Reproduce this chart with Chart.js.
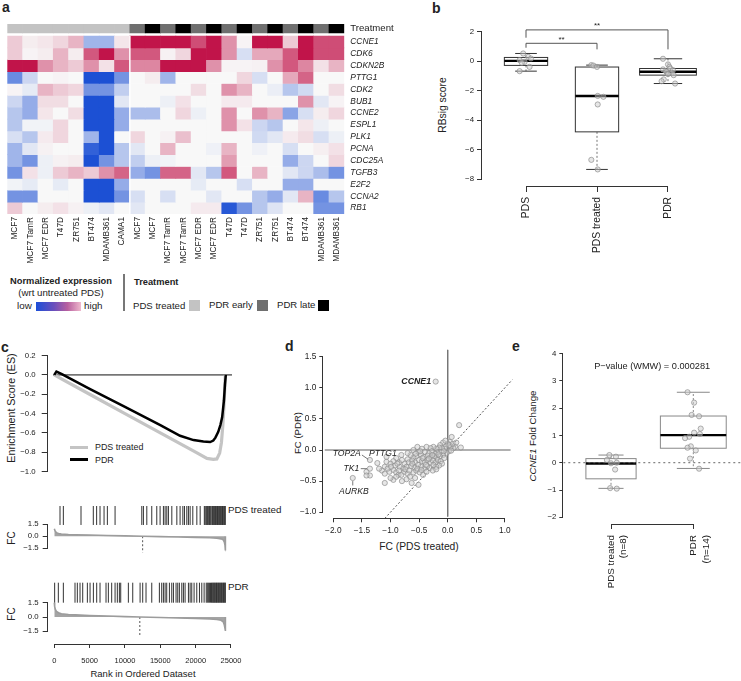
<!DOCTYPE html>
<html>
<head>
<meta charset="utf-8">
<script src="https://cdn.jsdelivr.net/npm/chart.js@4.4.1/dist/chart.umd.min.js"></script>
<style>
body { margin: 0; background: #fff; overflow: hidden; }
#fig { position: relative; width: 741px; height: 681px; overflow: hidden; font-family: "Liberation Sans", Arial, sans-serif; color: #222; }
#fig canvas { position: absolute; }
.t { position: absolute; white-space: nowrap; line-height: 1; font-size: 9.6px; }
.vc { transform: translateY(-50%); }
.cc { transform: translate(-50%, -50%); }
.rot { transform: translate(-50%, -50%) rotate(-90deg); }
.pl { font-weight: bold; font-size: 14px; line-height: 14px; }
.sw { position: absolute; width: 11px; height: 11px; }
</style>
</head>
<body>
<div id="fig">
  <!-- panel letters -->
  <div class="t pl" style="left:2px;top:0px">a</div>
  <div class="t pl" style="left:432px;top:1px">b</div>
  <div class="t pl" style="left:1px;top:340px">c</div>
  <div class="t pl" style="left:285px;top:339px">d</div>
  <div class="t pl" style="left:512px;top:339px">e</div>

  <!-- heatmap legend -->
  <div class="t cc" style="left:61px;top:282px;font-weight:bold;font-size:9.3px">Normalized expression</div>
  <div class="t cc" style="left:61px;top:293px;font-size:9.7px">(wrt untreated PDS)</div>
  <div class="t vc" style="left:17px;top:306px;font-size:9.8px">low</div>
  <div style="position:absolute;left:36px;top:302px;width:45px;height:9px;background:linear-gradient(90deg,#1c4fd8,#6a4fbc 40%,#b8609f 70%,#efb9cd)"></div>
  <div class="t vc" style="left:84px;top:306px;font-size:9.8px">high</div>
  <div style="position:absolute;left:123px;top:274px;width:1.5px;height:37px;background:#777"></div>
  <div class="t vc" style="left:134px;top:283px;font-weight:bold;font-size:9.3px">Treatment</div>
  <div class="t vc" style="left:133px;top:306px">PDS treated</div>
  <div class="sw" style="left:189px;top:300px;background:#c3c3c3"></div>
  <div class="t vc" style="left:209px;top:305px">PDR early</div>
  <div class="sw" style="left:257px;top:300px;background:#6f6f6f"></div>
  <div class="t vc" style="left:277px;top:305px">PDR late</div>
  <div class="sw" style="left:318px;top:300px;background:#000"></div>

  <!-- axis titles -->
  <div class="t rot" style="left:443px;top:105px;font-size:10.3px">RBsig score</div>
  <div class="t rot" style="left:11px;top:408px;font-size:10.7px">Enrichment Score (ES)</div>
  <div class="t rot" style="left:12px;top:538px;font-size:10px">FC</div>
  <div class="t rot" style="left:12px;top:614px;font-size:10px">FC</div>
  <div class="t cc" style="left:143px;top:674px;font-size:9.5px">Rank in Ordered Dataset</div>
  <div class="t rot" style="left:298px;top:433px;font-size:9.6px">FC (PDR)</div>
  <div class="t cc" style="left:419px;top:547px;font-size:10.3px">FC (PDS treated)</div>
  <div class="t rot" style="left:533px;top:436px;font-size:9.7px"><i>CCNE1</i> Fold Change</div>

  <!-- panel c legend and barcode names -->
  <div style="position:absolute;left:70px;top:445.5px;width:18px;height:3px;background:#c4c4c4"></div>
  <div class="t vc" style="left:95px;top:447px;font-size:8.9px">PDS treated</div>
  <div style="position:absolute;left:70px;top:458px;width:18px;height:2.5px;background:#000"></div>
  <div class="t vc" style="left:95px;top:459.5px;font-size:8.9px">PDR</div>
  <div class="t vc" style="left:228px;top:510px;font-size:9.8px">PDS treated</div>
  <div class="t vc" style="left:228px;top:587px;font-size:9.8px">PDR</div>
</div>

<script>
// ---------- a: heatmap ----------
const cellLines = ['MCF7', 'MCF7 TamR', 'MCF7 EDR', 'T47D', 'ZR751', 'BT474', 'MDAMB361', 'CAMA1',
  'MCF7', 'MCF7', 'MCF7 TamR', 'MCF7 TamR', 'MCF7 EDR', 'MCF7 EDR', 'T47D', 'T47D',
  'ZR751', 'ZR751', 'BT474', 'BT474', 'MDAMB361', 'MDAMB361'];
const treatment = ['PDS treated', 'PDS treated', 'PDS treated', 'PDS treated', 'PDS treated', 'PDS treated', 'PDS treated', 'PDS treated',
  'PDR early', 'PDR late', 'PDR early', 'PDR late', 'PDR early', 'PDR late', 'PDR early', 'PDR late',
  'PDR early', 'PDR late', 'PDR early', 'PDR late', 'PDR early', 'PDR late'];
const genes = ['CCNE1', 'CDK6', 'CDKN2B', 'PTTG1', 'CDK2', 'BUB1', 'CCNE2', 'ESPL1', 'PLK1', 'PCNA', 'CDC25A', 'TGFB3', 'E2F2', 'CCNA2', 'RB1'];
// scaled expression (-1 low .. 1 high), one row per gene, one column per sample
const expr = [
  [0.2, 0.05, 0.08, 0.15, 0.3, -0.4, -0.4, 0.08, 1, 1, 1, 1, 0.75, 1, 0.45, 0.02, 1, 1, 0.2, 1, 0.75, 0.75],
  [0.2, 0.02, 0.05, 0.3, 0.05, 0.7, 1, 0.45, 0.7, 0.7, 0.03, 0.15, 1, 1, 0.45, -0.15, 0.35, 0.35, 0.7, 1, 0.75, 0.75],
  [1, 1, 0.45, 0.3, 0.2, 0.45, 0.1, 0.7, 0.5, 0.5, 1, 1, 1, 0.45, 0.02, 0.02, 0.03, 0.45, 0.7, 0.5, 0.1, 0.3],
  [-0.65, -0.2, 0, 0.02, 0, -1, -1, -0.6, 0, 0.05, -0.4, 0, 0, 0, 0, 0.15, -0.15, 0, 0.35, 0.65, 0, 0],
  [0.02, -0.08, 0.3, 0.2, 0.15, -0.6, -0.6, -0.25, 0, 0, 0, 0, 0.12, 0, 0.45, 0.3, 0, -0.06, -0.3, -0.18, 0, 0.12],
  [-0.2, -0.45, 0.12, 0.12, 0, -1, -1, -0.1, 0, 0, -0.05, 0.1, 0, 0, 0.06, 0.06, 0, 0, 0, 0.45, -0.1, 0.02],
  [-0.3, -0.45, 0.08, 0, 0.12, -1, -1, -0.45, -0.35, -0.35, 0, 0.15, -0.05, 0, 0.45, 0, 0.45, 0.3, -0.5, -0.15, 0.05, 0.15],
  [-0.3, -0.03, -0.03, 0.15, 0, -1, -1, -0.45, 0, 0, 0, 0, 0, 0, 0.45, 0.1, -0.2, -0.3, 0, 0.08, -0.05, 0],
  [-0.15, -0.3, 0.06, 0.15, 0, -0.4, -1, 0, 0.15, 0, 0.03, 0.25, 0, 0, 0, 0, -0.18, -0.1, 0.06, 0.12, -0.15, -0.05],
  [-0.4, -0.1, 0.03, 0, 0, -0.9, -1, -0.3, -0.1, 0, 0.3, 0, 0, -0.04, 0.3, 0, -0.04, 0, -0.15, 0, 0.04, 0.1],
  [-0.4, -0.6, -0.05, 0.03, 0.05, -1, -0.6, -0.3, -0.25, -0.05, -0.03, 0, 0, 0, 0.4, 0, 0, 0, -0.45, -0.2, 0, 0.15],
  [-0.6, 0.1, -0.05, 0.2, 0.3, 0.2, 0.45, 0.65, -0.45, -0.6, 0.65, 0.65, -0.1, -0.3, 0.7, 0, 0.3, 0, -0.1, -0.2, -0.35, -0.6],
  [-0.03, -0.08, 0, -0.08, 0, -1, -1, -0.45, 0, 0, 0, 0, -0.08, 0, 0, -0.15, 0, 0, -0.45, -0.45, 0, 0],
  [-0.6, -0.6, 0, 0, 0, -1, -1, -0.6, -0.15, 0, -0.15, 0, 0, -0.1, 0, 0, -0.3, -0.45, -0.1, 0.3, -0.65, -0.3],
  [0.2, 0, 0.05, 0.1, 0.03, -0.05, -0.1, 0, -0.1, 0, 0, 0, 0.06, 0.06, -0.95, -0.6, -0.3, -0.12, 0, 0, -0.6, -0.6]
];
const treatColors = { 'PDS treated': '#c3c3c3', 'PDR early': '#6f6f6f', 'PDR late': '#000000' };

// ---------- b: RBsig score boxplots ----------
const bGroups = ['PDS', 'PDS treated', 'PDR'];
const bLow = [-0.68, -7.35, -1.52];
const bQ1 = [-0.29, -4.8, -0.95];
const bMed = [0.02, -2.37, -0.72];
const bQ3 = [0.25, -0.4, -0.5];
const bHigh = [0.52, -0.27, 0.16];
const bWidth = [0.61, 0.61, 0.8];
const bPdsScore = [0.52, 0.29, 0.18, 0.07, -0.05, -0.11, -0.39, -0.68];
const bPdsJit = [-0.04, 0.03, 0.07, -0.09, -0.02, -0.06, 0.05, -0.09];
const bTreatScore = [-0.27, -0.3, -0.39, -2.36, -2.42, -2.94, -6.7, -7.35];
const bTreatJit = [-0.08, -0.05, 0.0, 0.01, 0.09, 0.01, -0.08, 0.01];
const bPdrScore = [0.16, -0.22, -0.39, -0.5, -0.56, -0.61, -0.68, -0.74, -0.79, -0.88, -0.95, -1.24, -1.36, -1.52];
const bPdrJit = [-0.07, 0.0, 0.02, 0.03, -0.07, 0.07, -0.03, -0.02, 0.05, 0.0, 0.08, -0.06, -0.09, 0.1];

// ---------- c: GSEA ----------
const esPdsRank = [0, 1000, 5000, 10000, 15000, 20000, 21600, 22500, 23000, 23400, 23650, 23850, 24000, 24100, 24200];
const esPdsVal = [0.0, -0.04, -0.2, -0.4, -0.6, -0.8, -0.865, -0.875, -0.87, -0.81, -0.7, -0.52, -0.33, -0.17, 0.0];
const esPdrRank = [0, 300, 1000, 5000, 10000, 15000, 17800, 19700, 21100, 22050, 22500, 22800, 23200, 23500, 23750, 24000, 24150, 24270];
const esPdrVal = [0.0, 0.035, 0.01, -0.145, -0.33, -0.52, -0.63, -0.675, -0.69, -0.695, -0.68, -0.65, -0.59, -0.52, -0.44, -0.27, -0.1, 0.0];
const hitsPds = [807, 1280, 3780, 5520, 5990, 6470, 7040, 7510, 8600, 12380, 12610, 13090, 13790, 14500, 14970, 15440, 15680,
  15920, 16150, 16630, 17340, 17800, 18190, 18420, 18750, 18980, 19220, 19600, 20170, 20640, 21230, 21350, 21500, 21600,
  21700, 21850, 21950, 22050, 22150, 22300, 22400, 22500, 22600, 22700, 22800, 22900, 23000, 23100, 23200, 23300, 23400,
  23500, 23600, 23700, 23800, 23900, 24000, 24100, 24200];
const hitsPdr = [50, 570, 1280, 2930, 3260, 3640, 4020, 4680, 5060, 5530, 6000, 6470, 7320, 7650, 8120, 8600, 8920, 9210,
  9400, 10480, 11100, 12140, 12510, 12980, 13790, 14870, 15200, 15440, 15680, 15910, 16290, 16620, 16860, 17230, 17470,
  17700, 18040, 18270, 18510, 18980, 19220, 19450, 19780, 20160, 20540, 20870, 21200, 21500, 21650, 21800, 21950, 22100,
  22250, 22350, 22450, 22550, 22650, 22750, 22850, 22950, 23050, 23150, 23250, 23350, 23450, 23550, 23650, 23750, 23850,
  23950, 24050, 24150, 24200];
const fcPdsRank = [0, 100, 300, 600, 1000, 2000, 3000, 5000, 7500, 10000, 12500, 15000, 17500, 20000, 22000, 23000, 23600, 23900, 24050, 24150, 24200, 24210];
const fcPdsVal = [0.95, 0.7, 0.45, 0.35, 0.28, 0.22, 0.19, 0.15, 0.1, 0.05, 0.0, -0.05, -0.09, -0.14, -0.2, -0.26, -0.33, -0.45, -0.7, -1.1, -1.7, 0];
const fcPdrRank = [0, 50, 150, 300, 600, 1000, 2000, 3000, 5000, 7500, 10000, 12100, 15000, 17500, 20000, 22000, 23000, 23600, 23900, 24050, 24150, 24200, 24210];
const fcPdrVal = [1.5, 1.1, 0.8, 0.6, 0.45, 0.35, 0.26, 0.22, 0.16, 0.1, 0.04, 0.0, -0.05, -0.1, -0.15, -0.21, -0.27, -0.35, -0.5, -0.8, -1.2, -1.4, 0];
const midPds = 12500, midPdr = 12100;

// ---------- d: FC scatter ----------
const dPoints = [
  [0.2, 0.4], [0.07, 0.21], [0.04, 0.13], [0.13, 0.05], [0.23, 0.04], [0.1, 0.03], [0.05, 0.05], [0.0, 0.1], [-0.03, 0.06],
  [-0.08, 0.12], [-0.13, 0.08], [-0.05, 0.02], [0.02, -0.02], [-0.02, -0.05], [0.06, -0.01], [-0.1, 0.03], [-0.15, 0.04],
  [-0.2, 0.02], [-0.25, 0.05], [-0.3, 0.03], [-0.37, 0.05], [-0.53, 0.05], [-0.45, 0.02], [-0.12, -0.03], [-0.18, -0.04],
  [-0.22, -0.06], [-0.28, -0.02], [-0.33, -0.05], [-0.4, -0.03], [-0.51, -0.03], [-0.08, -0.08], [-0.14, -0.1], [-0.19, -0.12],
  [-0.24, -0.1], [-0.3, -0.12], [-0.35, -0.09], [-0.42, -0.11], [-0.47, -0.07], [-0.55, -0.1], [-0.6, -0.12], [-0.65, -0.08],
  [-0.7, -0.15], [-0.81, -0.08], [-0.9, -0.13], [-1.07, -0.11], [-1.07, -0.19], [-0.95, -0.18], [-0.85, -0.2], [-0.75, -0.22],
  [-0.68, -0.2], [-0.62, -0.17], [-0.57, -0.2], [-0.5, -0.16], [-0.45, -0.18], [-0.4, -0.2], [-0.35, -0.16], [-0.3, -0.2],
  [-0.26, -0.17], [-0.21, -0.2], [-0.17, -0.16], [-0.12, -0.18], [-0.06, -0.13], [-0.1, -0.22], [-0.15, -0.25], [-0.2, -0.27],
  [-0.25, -0.24], [-0.31, -0.29], [-0.36, -0.26], [-0.41, -0.3], [-0.47, -0.27], [-0.52, -0.24], [-0.58, -0.28], [-0.64, -0.26],
  [-0.72, -0.27], [-0.78, -0.3], [-0.84, -0.27], [-0.92, -0.25], [-1.0, -0.22], [-1.1, -0.27], [-1.15, -0.33], [-1.1, -0.38],
  [-1.02, -0.35], [-0.95, -0.32], [-0.9, -0.36], [-0.86, -0.4], [-0.81, -0.4], [-0.76, -0.35], [-0.7, -0.38], [-0.66, -0.43],
  [-0.6, -0.36], [-0.55, -0.33], [-0.49, -0.36], [-0.43, -0.4], [-0.37, -0.35], [-0.26, -0.33], [-0.2, -0.31], [-0.95, -0.48],
  [-0.9, -0.43], [-1.1, -0.53], [-0.63, -0.53], [-0.51, -0.56], [-0.72, -0.47], [-0.57, -0.45], [-1.0, -0.45], [-1.2, -0.3],
  [-1.42, -0.35], [-1.36, -0.41], [-1.42, -0.41], [-0.8, -0.5], [-0.38, -0.24], [-0.44, -0.13], [-0.33, -0.14],
  [-0.27, -0.08], [-0.16, -0.07], [-0.07, -0.02], [0.03, 0.08], [0.09, 0.1], [-0.04, 0.15], [0.15, 0.12], [-0.6, 0.0],
  [-0.48, -0.02], [-0.7, -0.05], [-0.56, -0.06], [-1.05, -0.3], [-0.99, -0.27], [-0.85, -0.33], [-0.74, -0.31], [-0.67, -0.33],
  [-0.53, -0.3], [-0.46, -0.32], [-0.62, -0.22], [-0.8, -0.16], [-0.88, -0.22]
];
const dGenes = ['CCNE1', 'TOP2A', 'PTTG1', 'TK1', 'AURKB'];
const dGeneX = [-0.21, -1.36, -1.23, -1.36, -1.66];
const dGeneY = [1.10, -0.16, -0.21, -0.3, -0.45];

// ---------- e: CCNE1 fold change ----------
const eLabels = [['PDS treated', '(n=8)'], ['PDR', '(n=14)']];
const eLow = [-0.94, -0.21];
const eQ1 = [-0.59, 0.53];
const eMed = [-0.03, 1.01];
const eQ3 = [0.15, 1.71];
const eHigh = [0.28, 2.58];
const eWidth = [0.61, 0.8];
const eTreatFC = [0.28, 0.22, 0.1, 0.0, -0.02, -0.25, -0.93, -0.95];
const eTreatJit = [-0.02, 0.06, -0.05, 0.07, 0.0, 0.05, -0.01, 0.07];
const ePdrFC = [2.58, 2.2, 1.75, 1.7, 1.25, 1.1, 1.05, 0.95, 0.9, 0.6, 0.55, 0.45, 0.15, -0.22];
const ePdrJit = [-0.07, 0.01, -0.02, 0.07, 0.09, 0.01, 0.08, -0.05, -0.1, -0.03, -0.07, 0.03, -0.04, 0.07];

// ================= drawing =================
const FONT = '"Liberation Sans", Arial, sans-serif';
Chart.defaults.font.family = FONT;
Chart.defaults.font.size = 7.8;
Chart.defaults.color = '#222';
Chart.defaults.animation = false;
Chart.defaults.responsive = false;
Chart.defaults.events = [];
Chart.defaults.plugins.legend.display = false;
Chart.defaults.plugins.tooltip.enabled = false;

// R-like extras: short axis lines, boxplots, brackets, labels
const extras = {
  id: 'extras',
  beforeDatasetsDraw(chart, args, o) {
    const { ctx, scales: { x, y } } = chart;
    (o.boxes || []).forEach(b => {
      const xc = x.getPixelForValue(b.pos);
      const hw = Math.abs(x.getPixelForValue(b.pos + b.width / 2) - xc);
      const cw = hw * 0.5;
      const py = v => y.getPixelForValue(v);
      ctx.save();
      ctx.lineWidth = 1;
      ctx.strokeStyle = b.whisker;
      ctx.setLineDash([2, 2]);
      ctx.beginPath();
      ctx.moveTo(xc, py(b.q3)); ctx.lineTo(xc, py(b.hi));
      ctx.moveTo(xc, py(b.q1)); ctx.lineTo(xc, py(b.lo));
      ctx.stroke();
      ctx.setLineDash([]);
      ctx.strokeStyle = b.edge;
      ctx.beginPath();
      ctx.moveTo(xc - cw, py(b.hi)); ctx.lineTo(xc + cw, py(b.hi));
      ctx.moveTo(xc - cw, py(b.lo)); ctx.lineTo(xc + cw, py(b.lo));
      ctx.stroke();
      ctx.fillStyle = '#fff';
      ctx.fillRect(xc - hw, py(b.q3), 2 * hw, py(b.q1) - py(b.q3));
      ctx.strokeRect(xc - hw, py(b.q3), 2 * hw, py(b.q1) - py(b.q3));
      ctx.lineWidth = 2.4;
      ctx.strokeStyle = '#000';
      ctx.beginPath();
      ctx.moveTo(xc - hw, py(b.med)); ctx.lineTo(xc + hw, py(b.med));
      ctx.stroke();
      ctx.restore();
    });
  },
  afterDatasetsDraw(chart, args, o) {
    const { ctx, chartArea: ca, scales: { x, y } } = chart;
    ctx.save();
    ctx.strokeStyle = '#333';
    ctx.lineWidth = 1;
    if (o.xLine) {
      const yy = Math.round(ca.bottom) + 0.5;
      ctx.beginPath();
      ctx.moveTo(x.getPixelForValue(o.xLine[0]), yy);
      ctx.lineTo(x.getPixelForValue(o.xLine[1]), yy);
      ctx.stroke();
    }
    if (o.yLine) {
      const xx = Math.round(ca.left) - 0.5;
      ctx.beginPath();
      ctx.moveTo(xx, y.getPixelForValue(o.yLine[0]));
      ctx.lineTo(xx, y.getPixelForValue(o.yLine[1]));
      ctx.stroke();
    }
    (o.segs || []).forEach(s => {
      ctx.strokeStyle = s.color || '#555';
      ctx.lineWidth = s.width || 1;
      ctx.setLineDash(s.dash || []);
      ctx.beginPath();
      s.pts.forEach((p, i) => {
        const px = x.getPixelForValue(p[0]), py = y.getPixelForValue(p[1]);
        if (i === 0) ctx.moveTo(px, py); else ctx.lineTo(px, py);
      });
      ctx.stroke();
    });
    ctx.setLineDash([]);
    (o.texts || []).forEach(t => {
      ctx.font = t.font;
      ctx.fillStyle = t.color || '#222';
      ctx.textAlign = t.align || 'center';
      ctx.textBaseline = 'middle';
      ctx.fillText(t.text, x.getPixelForValue(t.x), y.getPixelForValue(t.y));
    });
    ctx.restore();
  }
};
Chart.register(extras);

function place(left, top, w, h) {
  const c = document.createElement('canvas');
  c.width = w; c.height = h;
  c.style.left = left + 'px'; c.style.top = top + 'px';
  c.style.width = w + 'px'; c.style.height = h + 'px';
  document.getElementById('fig').appendChild(c);
  return c;
}

const minus = (v, d) => (v < 0 ? '\u2212' : '') + Math.abs(v).toFixed(d);

// R style linear axis: ticks only at given values, fixed box size
function rScale(o) {
  const s = {
    type: 'linear', min: o.min, max: o.max, display: o.display !== false,
    border: { display: false },
    grid: { drawOnChartArea: false, drawTicks: true, tickLength: o.tl || 5, color: '#333', lineWidth: 1 },
    ticks: {
      padding: o.pad == null ? 3 : o.pad, autoSkip: false, color: '#222',
      font: { size: o.fs || 7.8, lineHeight: o.lh || 1.2 },
      minRotation: o.rot || 0, maxRotation: o.rot || 0, callback: o.cb
    }
  };
  if (o.ticks) s.afterBuildTicks = sc => { sc.ticks = o.ticks.map(v => ({ value: v })); };
  if (o.w != null) s.afterFit = sc => { sc.width = o.w; };
  if (o.h != null) s.afterFit = sc => { sc.height = o.h; };
  return s;
}

function heatColor(v) {
  const w = [248, 248, 248], r = [193, 20, 74], b = [28, 80, 212];
  const t = Math.min(1, Math.abs(v)), c = v >= 0 ? r : b;
  return 'rgb(' + w.map((q, i) => Math.round(q + (c[i] - q) * t)).join(',') + ')';
}

const ptStyle = {
  pointRadius: 2.6, pointBorderWidth: 0.8,
  pointBorderColor: 'rgba(140,140,140,0.85)', pointBackgroundColor: 'rgba(205,205,205,0.5)'
};

// ----- a -----
const heatSets = genes.map((g, r) => ({
  label: g,
  data: cellLines.map(() => [14 - r, 15 - r]),
  backgroundColor: expr[r].map(heatColor),
  grouped: false, barPercentage: 1, categoryPercentage: 1, borderWidth: 0
}));
heatSets.push({
  label: 'Treatment',
  data: cellLines.map(() => [15.25, 16.01]),
  backgroundColor: treatment.map(t => treatColors[t]),
  grouped: false, barPercentage: 1, categoryPercentage: 1, borderWidth: 0
});
const rowTicks = genes.map((g, i) => 14.5 - i).concat([15.63]);
new Chart(place(0, 0, 420, 275), {
  type: 'bar',
  data: { labels: cellLines, datasets: heatSets },
  options: {
    devicePixelRatio: 1,
    layout: { padding: { left: 7.3, top: 24 } },
    scales: {
      x: {
        grid: { display: false, drawTicks: false }, border: { display: false },
        ticks: { minRotation: 90, maxRotation: 90, autoSkip: false, padding: 3, font: { size: 8.3 } },
        afterFit: s => { s.height = 61; }
      },
      y: {
        position: 'right', min: 0, max: 16.01,
        grid: { display: false, drawTicks: false }, border: { display: false },
        afterBuildTicks: s => { s.ticks = rowTicks.map(v => ({ value: v })); },
        ticks: {
          padding: 6, autoSkip: false,
          callback: v => v > 15 ? 'Treatment' : genes[Math.round(14.5 - v)],
          font: c => (c.tick && c.tick.value > 15) ? { size: 9.6 } : { size: 8.4, style: 'italic' }
        },
        afterFit: s => { s.width = 75.7; }
      }
    },
    plugins: { extras: { segs: [{ pts: [[7.5, 0], [7.5, 15]], color: '#fff', width: 1.5 }] } }
  }
});

// ----- b -----
const bPts = []
  .concat(bPdsScore.map((v, i) => ({ x: 1 + bPdsJit[i], y: v })))
  .concat(bTreatScore.map((v, i) => ({ x: 2 + bTreatJit[i], y: v })))
  .concat(bPdrScore.map((v, i) => ({ x: 3 + bPdrJit[i], y: v })));
new Chart(place(430, 0, 311, 265), {
  type: 'scatter',
  data: { datasets: [Object.assign({ data: bPts }, ptStyle)] },
  options: {
    devicePixelRatio: 1,
    layout: { padding: { top: 24.3, right: 29 } },
    scales: {
      x: rScale({ min: 0.38, max: 3.62, ticks: [1, 2, 3], cb: v => bGroups[v - 1], rot: 90, fs: 10.3, tl: 6, pad: 5, h: 79 }),
      y: rScale({ min: -8.475, max: 2.5, ticks: [2, 0, -2, -4, -6, -8], cb: v => minus(v, 0), w: 52, tl: 5, pad: 3 })
    },
    plugins: {
      extras: {
        xLine: [1, 3], yLine: [2, -8],
        boxes: bGroups.map((g, i) => ({ pos: i + 1, width: bWidth[i], lo: bLow[i], q1: bQ1[i], med: bMed[i], q3: bQ3[i], hi: bHigh[i], edge: '#333', whisker: '#777' })),
        segs: [
          { pts: [[1, 1.59], [1, 2.12], [3, 2.12], [3, 0.8]], color: '#555' },
          { pts: [[1, 0.91], [1, 1.21], [2, 1.21], [2, 0.8]], color: '#555' }
        ],
        texts: [
          { x: 2, y: 2.4, text: '**', font: '8px ' + FONT },
          { x: 1.5, y: 1.48, text: '**', font: '8px ' + FONT }
        ]
      }
    }
  }
});

// ----- c: running enrichment score -----
const RMIN = -934, RMAX = 25570;
new Chart(place(0, 340, 260, 145), {
  type: 'line',
  data: {
    datasets: [
      { data: esPdrRank.map((r, i) => ({ x: r, y: esPdrVal[i] })), borderColor: '#000', borderWidth: 2.5, pointRadius: 0 },
      { data: esPdsRank.map((r, i) => ({ x: r, y: esPdsVal[i] })), borderColor: '#c4c4c4', borderWidth: 3.2, pointRadius: 0 },
      { data: [{ x: -184, y: 0 }, { x: 25145, y: 0 }], borderColor: '#111', borderWidth: 1, pointRadius: 0 }
    ]
  },
  options: {
    devicePixelRatio: 1,
    layout: { padding: { top: 12, bottom: 5, right: 25 } },
    scales: {
      x: { type: 'linear', display: false, min: RMIN, max: RMAX },
      y: rScale({ min: -1.0297, max: 0.2376, ticks: [0.2, 0, -0.2, -0.4, -0.6, -0.8, -1.0], cb: v => minus(v, 1), w: 47.7, tl: 6, pad: 6 })
    },
    plugins: { extras: { yLine: [0.2, -1.0] } }
  }
});

function fcChart(top, h, hits, hitY, rank, vals, mid, yMin, yMax, padTop, showX) {
  return new Chart(place(0, top, 260, h), {
    type: 'line',
    data: {
      datasets: [
        {
          type: 'scatter', data: hits.map(r => ({ x: r, y: hitY })),
          pointStyle: 'line', rotation: 90, pointRadius: 10, pointBorderWidth: 1, pointBorderColor: '#333'
        },
        {
          data: rank.map((r, i) => ({ x: r, y: vals[i] })), borderColor: '#9c9c9c', borderWidth: 1.6,
          backgroundColor: '#a4a4a4', fill: 'origin', pointRadius: 0
        },
        {
          data: [{ x: mid, y: 0 }, { x: mid, y: -2.05 }], borderColor: '#555', borderWidth: 1,
          borderDash: [2, 2], pointRadius: 0
        }
      ]
    },
    options: {
      devicePixelRatio: 1,
      layout: { padding: { top: padTop, bottom: showX ? 0 : 3, right: 25 } },
      scales: {
        x: showX
          ? rScale({ min: RMIN, max: RMAX, ticks: [0, 5000, 10000, 15000, 20000, 25000], cb: v => String(v), h: 37, tl: 4, pad: 8, fs: 7.5 })
          : { type: 'linear', display: false, min: RMIN, max: RMAX },
        y: rScale({ min: yMin, max: yMax, ticks: [1.5, 0, -1.5], cb: v => minus(v, 1), w: 47.7, tl: 5, pad: 4 })
      },
      plugins: { extras: showX ? { xLine: [0, 25000], yLine: [1.5, -1.5] } : { yLine: [1.5, -1.5] } }
    }
  });
}
fcChart(495, 70, hitsPds, 2.68, fcPdsRank, fcPdsVal, midPds, -2.242, 3.813, 3, false);
fcChart(570, 111, hitsPdr, 2.554, fcPdrRank, fcPdrVal, midPdr, -2.838, 3.784, 4, true);

// ----- d -----
const lblFont = 'italic 8.6px ' + FONT;
new Chart(place(270, 340, 260, 215), {
  type: 'scatter',
  data: {
    datasets: [
      Object.assign({ data: dPoints.map(p => ({ x: p[0], y: p[1] })).concat(dGeneX.map((v, i) => ({ x: v, y: dGeneY[i] }))) }, ptStyle),
      { data: [{ x: 0, y: 1.61 }, { x: 0, y: -1.07 }], showLine: true, pointRadius: 0, borderColor: '#777', borderWidth: 1 },
      { data: [{ x: -2.15, y: 0 }, { x: 1.1, y: 0 }], showLine: true, pointRadius: 0, borderColor: '#b0b0b0', borderWidth: 2 },
      { data: [{ x: -1.1, y: -1.1 }, { x: 1.13, y: 1.13 }], showLine: true, pointRadius: 0, borderColor: '#555', borderWidth: 1, borderDash: [2, 2] }
    ]
  },
  options: {
    devicePixelRatio: 1,
    layout: { padding: { top: 8, right: 15 } },
    scales: {
      x: rScale({ min: -2.175, max: 1.177, ticks: [-2, -1.5, -1, -0.5, 0, 0.5, 1], cb: v => minus(v, 1), h: 36.7, tl: 4, pad: 3, fs: 8.3 }),
      y: rScale({ min: -1.098, max: 1.64, ticks: [-1, -0.5, 0, 0.5, 1, 1.5], cb: v => minus(v, 1), w: 53.3, tl: 4, pad: 3, fs: 8.3 })
    },
    plugins: {
      extras: {
        xLine: [-2, 1], yLine: [1.5, -1],
        segs: [
          { pts: [[-1.5, -0.08], [-1.39, -0.15]], color: '#555', width: 0.8 },
          { pts: [[-1.52, -0.3], [-1.41, -0.3]], color: '#555', width: 0.8 },
          { pts: [[-1.66, -0.5], [-1.66, -0.57]], color: '#555', width: 0.8 }
        ],
        texts: [
          { x: -0.29, y: 1.10, text: dGenes[0], align: 'right', font: 'italic bold 8.8px ' + FONT },
          { x: -1.52, y: -0.064, text: dGenes[1], align: 'right', font: lblFont },
          { x: -1.376, y: -0.064, text: dGenes[2], align: 'left', font: lblFont },
          { x: -1.545, y: -0.294, text: dGenes[3], align: 'right', font: lblFont },
          { x: -1.64, y: -0.67, text: dGenes[4], align: 'center', font: lblFont }
        ]
      }
    }
  }
});

// ----- e -----
const ePts = eTreatFC.map((v, i) => ({ x: 1 + eTreatJit[i], y: v }))
  .concat(ePdrFC.map((v, i) => ({ x: 2 + ePdrJit[i], y: v })));
new Chart(place(500, 335, 260, 255), {
  type: 'scatter',
  data: {
    datasets: [
      Object.assign({ data: ePts }, ptStyle),
      { data: [{ x: 0.4204, y: 0 }, { x: 2.5796, y: 0 }], showLine: true, pointRadius: 0, borderColor: '#666', borderWidth: 1, borderDash: [2, 3] }
    ]
  },
  options: {
    devicePixelRatio: 1,
    layout: { padding: { top: 10, right: 19 } },
    scales: {
      x: rScale({ min: 0.4204, max: 2.5796, ticks: [1, 2], cb: v => eLabels[v - 1], rot: 90, fs: 9.8, lh: 1.3, tl: 0, pad: 6, h: 66 }),
      y: rScale({ min: -2.245, max: 4.311, ticks: [-2, -1, 0, 1, 2, 3, 4], cb: v => minus(v, 0), w: 63.3, tl: 4, pad: 3 })
    },
    plugins: {
      extras: {
        xLine: [1, 2], yLine: [4, -2],
        boxes: eLabels.map((g, i) => ({ pos: i + 1, width: eWidth[i], lo: eLow[i], q1: eQ1[i], med: eMed[i], q3: eQ3[i], hi: eHigh[i], edge: '#888', whisker: '#888' })),
        texts: [{ x: 1.5, y: 3.52, text: 'P\u2212value (WMW) = 0.000281', font: '9.2px ' + FONT }]
      }
    }
  }
});
</script>
</body>
</html>
